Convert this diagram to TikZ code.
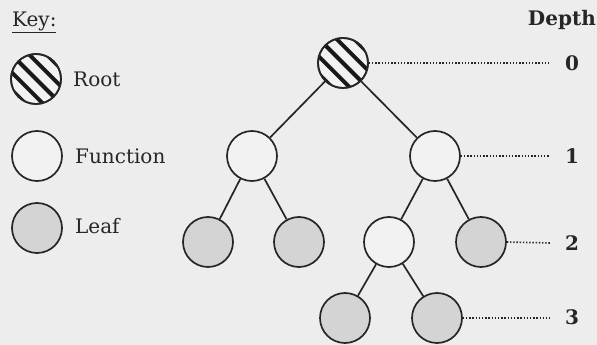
\documentclass[tikz,border=0pt]{standalone}
\usepackage{fontspec}
\usetikzlibrary{calc}
\setmainfont{DejaVu Serif}
\definecolor{bgc}{HTML}{EDEDED}
\definecolor{inkc}{HTML}{262626}
\definecolor{leafc}{HTML}{D4D4D4}
\begin{document}
\begin{tikzpicture}[x=1pt,y=1pt,
  nd/.style={circle,draw=inkc,line width=1.7pt,minimum size=50pt,inner sep=0pt},
  fnode/.style={nd,fill=white!30!bgc},
  lnode/.style={nd,fill=leafc},
  rnode/.style={nd,fill=white!30!bgc},
  edge/.style={draw=inkc,line width=1.7pt},
  dots/.style={draw=inkc,line width=1.6pt,dash pattern=on 1.4pt off 1.8pt},
  lbl/.style={anchor=west,inner sep=0pt,font=\fontsize{20}{22}\selectfont,text=inkc},
  dlbl/.style={inner sep=0pt,font=\fontsize{20}{22}\selectfont\bfseries,text=inkc}]
\fill[bgc] (0,0) rectangle (597,345);
\useasboundingbox (0,0) rectangle (597,345);
\tikzset{hatch/.pic={
  \begin{scope}
    \clip (0,0) circle (24.5);
    \foreach \k in {-2,...,2}{
      \draw[black!90,line width=4pt] ($(-40,40)+(\k*8.8,\k*8.8)$) -- ($(40,-40)+(\k*8.8,\k*8.8)$);
    }
  \end{scope}}}
% key
\node[lbl] (key) at (12,323) {\underline{Key:}};
\node[rnode] (kroot) at (36,266) {};
\pic at (kroot.center) {hatch};
\node[nd] at (kroot.center) {};
\node[lbl] (troot) at (73,266) {Root};
\node[fnode] (kfun) at (37,189) {};
\node[lbl] (tfun) at (75,189) {Function};
\node[lbl] (tleaf) at (75,119) {Leaf};
\node[lnode] (kleaf) at (37,117) {};
% tree
\node[rnode] (root) at (343,282) {};
\node[fnode] (f1L) at (252,189) {};
\node[fnode] (f1R) at (435,189) {};
\node[lnode] (l2a) at (208,103) {};
\node[lnode] (l2b) at (299,103) {};
\node[fnode] (f2) at (389,103) {};
\node[lnode] (l2c) at (481,103) {};
\node[lnode] (l3a) at (345,27) {};
\node[lnode] (l3b) at (437,27) {};
\pic at (root.center) {hatch};
\node[nd] at (root.center) {};
\draw[edge] (root) -- (f1L);
\draw[edge] (root) -- (f1R);
\draw[edge] (f1L) -- (l2a);
\draw[edge] (f1L) -- (l2b);
\draw[edge] (f1R) -- (f2);
\draw[edge] (f1R) -- (l2c);
\draw[edge] (f2) -- (l3a);
\draw[edge] (f2) -- (l3b);
% depth
\node[dlbl,anchor=east] (depth) at (596,325) {Depth};
\node[dlbl] (d0) at (572,282) {0};
\node[dlbl] (d1) at (572,189) {1};
\node[dlbl] (d2) at (572,102) {2};
\node[dlbl] (d3) at (572,28) {3};
\coordinate (e0) at (550,282);
\coordinate (e1) at (550,189);
\coordinate (e2) at (550,102);
\coordinate (e3) at (550,27);
\draw[dots] (root.east) -- (e0);
\draw[dots] (f1R.east) -- (e1);
\draw[dots] (l2c.east) -- (e2);
\draw[dots] (l3b.east) -- (e3);
\end{tikzpicture}
\end{document}
